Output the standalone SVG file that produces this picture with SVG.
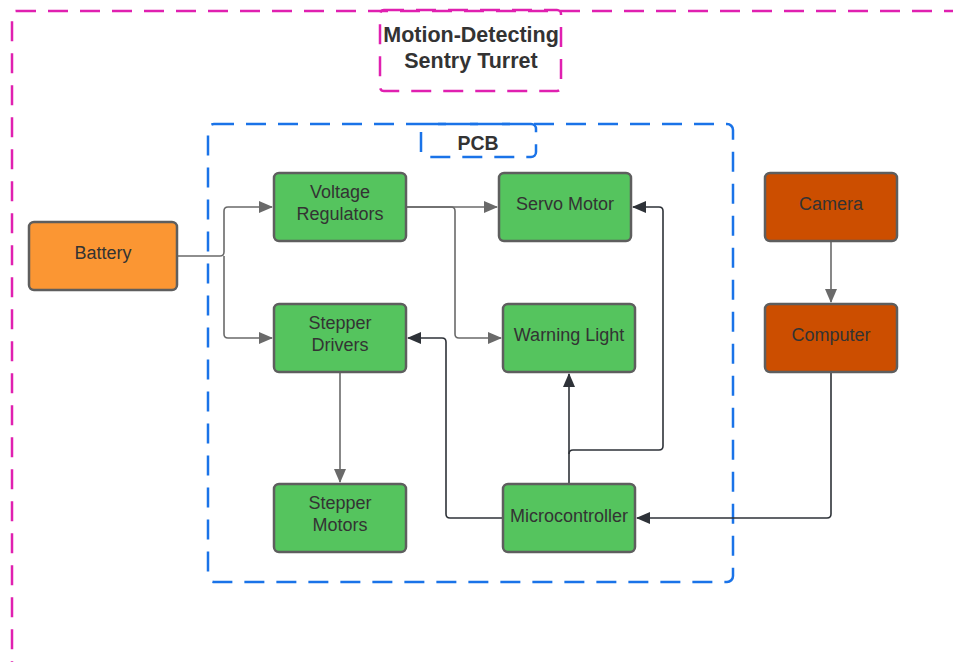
<svg xmlns="http://www.w3.org/2000/svg" width="953" height="662" viewBox="0 0 953 662">
<style>
.node rect{stroke:#5e5e5e;stroke-width:2.5}
.g rect{fill:#55c45e}
.o rect{fill:#cc4e00}
.b rect{fill:#fb9633}
text{font-family:"Liberation Sans",Arial,sans-serif;font-size:18px;fill:#333;text-anchor:middle}
.title{font-weight:bold;font-size:21.5px}
.pcb{font-weight:bold;font-size:19.5px}
.c{fill:none;stroke-width:1.6;stroke-linejoin:round}
.gray{stroke:#6a6a6a}
.dark{stroke:#2e3238}
</style>
<defs>
<marker id="ag" markerWidth="14" markerHeight="12" refX="13" refY="6" orient="auto" markerUnits="userSpaceOnUse"><path d="M0,0 L14,6 L0,12 Z" fill="#6a6a6a"/></marker>
<marker id="ad" markerWidth="14" markerHeight="12" refX="13" refY="6" orient="auto" markerUnits="userSpaceOnUse"><path d="M0,0 L14,6 L0,12 Z" fill="#2e3238"/></marker>
</defs>
<rect id="outer" x="12" y="11" width="1000" height="700" rx="4" fill="none" stroke="#e020b0" stroke-width="2.5" stroke-dasharray="20 12"/>
<g id="title">
<rect x="380" y="10" width="181" height="81" rx="4" fill="none" stroke="#e020b0" stroke-width="2.5" stroke-dasharray="20 12"/>
<text class="title" x="471" y="42">Motion-Detecting</text>
<text class="title" x="471" y="68">Sentry Turret</text>
</g>
<g id="pcb">
<rect x="208" y="124" width="525" height="458" rx="6" fill="none" stroke="#1a73e8" stroke-width="2.5" stroke-dasharray="20 12"/>
<rect x="421" y="124" width="115" height="33" rx="5" fill="none" stroke="#1a73e8" stroke-width="2.5" stroke-dasharray="20 12"/>
<text class="pcb" x="478" y="150">PCB</text>
</g>
<g id="connectors">
<path class="c gray" d="M177,256 H220 Q224,256 224,252 V211 Q224,207 228,207 H272" marker-end="url(#ag)"/>
<path class="c gray" d="M224,256 V334 Q224,338 228,338 H272" marker-end="url(#ag)"/>
<path class="c gray" d="M406,207 H497" marker-end="url(#ag)"/>
<path class="c gray" d="M406,207 H451 Q455,207 455,211 V334 Q455,338 459,338 H501" marker-end="url(#ag)"/>
<path class="c gray" d="M340,372 V482" marker-end="url(#ag)"/>
<path class="c gray" d="M831,241 V302" marker-end="url(#ag)"/>
<path class="c dark" d="M503,518 H450 Q446,518 446,514 V342 Q446,338 442,338 H408" marker-end="url(#ad)"/>
<path class="c dark" d="M569,484 V374" marker-end="url(#ad)"/>
<path class="c dark" d="M569,454 Q569,450 573,450 H659 Q663,450 663,446 V211 Q663,207 659,207 H633" marker-end="url(#ad)"/>
<path class="c dark" d="M831,372 V514 Q831,518 827,518 H637" marker-end="url(#ad)"/>
</g>
<g id="battery" class="node b"><rect x="29" y="222" width="148" height="68" rx="5"/><text x="103" y="259">Battery</text></g>
<g id="voltage-regulators" class="node g"><rect x="274" y="173" width="132" height="68" rx="5"/><text x="340" y="198">Voltage</text><text x="340" y="220">Regulators</text></g>
<g id="servo-motor" class="node g"><rect x="499" y="173" width="132" height="68" rx="5"/><text x="565" y="210">Servo Motor</text></g>
<g id="stepper-drivers" class="node g"><rect x="274" y="304" width="132" height="68" rx="5"/><text x="340" y="329">Stepper</text><text x="340" y="351">Drivers</text></g>
<g id="warning-light" class="node g"><rect x="503" y="304" width="132" height="68" rx="5"/><text x="569" y="341">Warning Light</text></g>
<g id="stepper-motors" class="node g"><rect x="274" y="484" width="132" height="68" rx="5"/><text x="340" y="509">Stepper</text><text x="340" y="531">Motors</text></g>
<g id="microcontroller" class="node g"><rect x="503" y="484" width="132" height="68" rx="5"/><text x="569" y="522">Microcontroller</text></g>
<g id="camera" class="node o"><rect x="765" y="173" width="132" height="68" rx="5"/><text x="831" y="210">Camera</text></g>
<g id="computer" class="node o"><rect x="765" y="304" width="132" height="68" rx="5"/><text x="831" y="341">Computer</text></g>
</svg>
